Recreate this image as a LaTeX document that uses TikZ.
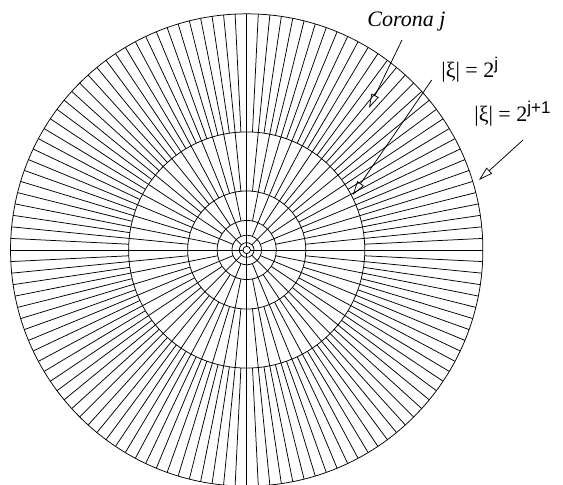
\documentclass[tikz,border=0pt]{standalone}
\usepackage{fontspec}
\setmainfont{Liberation Serif}
\setsansfont{Liberation Sans}
\usetikzlibrary{arrows.meta}

\newcommand{\supj}[1]{\raisebox{0.4em}{\fontsize{17}{20}\sffamily #1}}

\begin{document}
\begin{tikzpicture}[x=1pt, y=1pt, line width=0.75pt, >={Triangle[open, length=14pt, width=8pt]},
  lbl/.style={inner sep=0pt, anchor=base west, font=\fontsize{22}{26}\selectfont}]
  \useasboundingbox (0,0) rectangle (563,485);
  % dyadic coronas, each with twice the spokes of the one inside
  \begin{scope}[shift={(246.7,235)}]
    \draw (0,0) circle (3.69);
    \foreach \k/\n in {0/4, 1/8, 2/16, 3/32, 4/64, 5/128} {
      \pgfmathsetmacro{\rin}{3.69*2^\k}
      \pgfmathsetmacro{\rout}{2*\rin}
      \pgfmathsetmacro{\da}{360/\n}
      \draw (0,0) circle (\rout);
      \foreach \i in {1,...,\n}
        \draw ({\da*\i}:\rin) -- ({\da*\i}:\rout);
    }
  \end{scope}
  % labels
  \node[lbl] (corona) at (367,458) {\itshape Corona j};
  \node[lbl] (rj) at (441,407) {|ξ| = 2\supj{j}};
  \node[lbl] (rj1) at (474,363) {|ξ| = 2\supj{j+1}};
  \coordinate (corona-tail) at (402,445);
  \coordinate (corona-tip) at (369,377);
  \coordinate (rj-tail) at (431.7,405);
  \coordinate (rj-tip) at (352.7,290);
  \coordinate (rj1-tail) at (523,345);
  \coordinate (rj1-tip) at (479,305);
  \draw[->] (corona-tail) -- (corona-tip);
  \draw[->] (rj-tail) -- (rj-tip);
  \draw[->] (rj1-tail) -- (rj1-tip);
\end{tikzpicture}
\end{document}
